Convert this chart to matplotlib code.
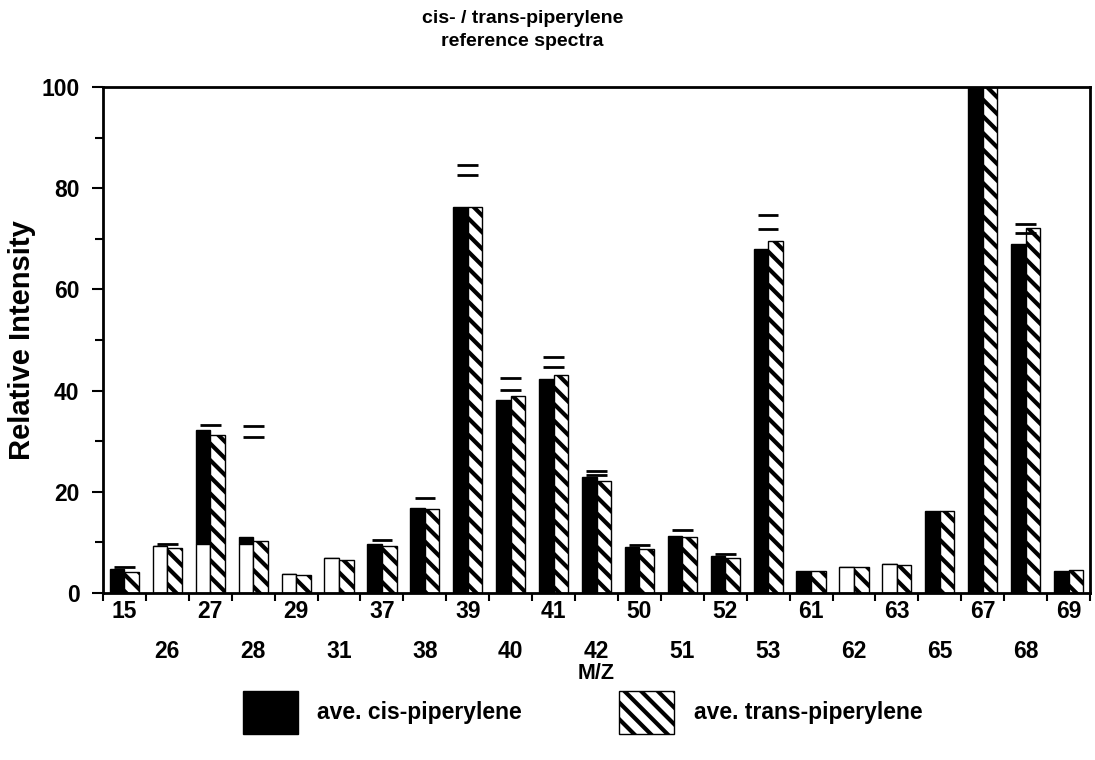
import numpy as np
import matplotlib
matplotlib.use("Agg")
import matplotlib.pyplot as plt
from matplotlib.patches import Patch

plt.rcParams['font.family'] = ['Liberation Sans', 'DejaVu Sans']
plt.rcParams['font.weight'] = 'bold'
plt.rcParams['hatch.linewidth'] = 3.0

# m/z fragments and average relative intensities
mz = ['15', '26', '27', '28', '29', '31', '37', '38', '39', '40', '41', '42',
      '50', '51', '52', '53', '61', '62', '63', '65', '67', '68', '69']
cis = [4.7, 9.3, 32.2, 11.0, 3.8, 6.9, 9.7, 16.9, 76.2, 38.1, 42.2, 22.9,
       9.0, 11.3, 7.3, 67.9, 4.4, 5.2, 5.7, 16.2, 100.0, 69.0, 4.3]
trans = [4.1, 8.8, 31.3, 10.3, 3.5, 6.5, 9.2, 16.7, 76.2, 39.0, 43.0, 22.1,
         8.7, 11.1, 6.9, 69.6, 4.3, 5.1, 5.6, 16.2, 100.0, 72.1, 4.5]
# upper error limits (first and second cap of each group)
cap_a = [5.2, 9.6, 33.2, 33.1, np.nan, np.nan, 10.5, 18.8, 84.6, 42.5, 46.6, 24.1,
         9.5, 12.4, 7.8, 74.8, np.nan, np.nan, np.nan, np.nan, np.nan, 73.0, np.nan]
cap_b = [np.nan, np.nan, np.nan, 30.8, np.nan, np.nan, np.nan, np.nan, 82.7, 40.1, 44.7, 23.4,
         np.nan, np.nan, np.nan, 71.9, np.nan, np.nan, np.nan, np.nan, np.nan, 71.2, np.nan]
# height of the unshaded lower part of the cis bars
cis_open = [0, 9.6, 9.6, 9.6, 9.6, 9.6, 0, 0, 0, 0, 0, 0,
            0, 0, 0, 0, 0, 10, 10, 0, 0, 0, 0]

x = np.arange(len(mz))
w = 0.34
cis_arr = np.array(cis)
open_arr = np.minimum(np.array(cis_open), cis_arr)
HATCH = '\\\\'

fig = plt.figure(figsize=(10.95, 7.6), dpi=100)
ax = fig.add_axes([0.0941, 0.2197, 0.9013, 0.6658])

ax.bar(x - w / 2, cis_arr - open_arr, w, bottom=open_arr, color='black',
       edgecolor='black', linewidth=1.0, label='ave. cis-piperylene')
ax.bar(x - w / 2, open_arr, w, color='white', edgecolor='black', linewidth=1.0)
ax.bar(x + w / 2, trans, w, color='white', edgecolor='black', hatch=HATCH,
       linewidth=1.0, label='ave. trans-piperylene')

ax.hlines(cap_a, x - 0.24, x + 0.24, colors='black', linewidth=2.0)
ax.hlines(cap_b, x - 0.24, x + 0.24, colors='black', linewidth=2.0)

ax.set_xlim(-0.5, len(mz) - 0.5)
ax.set_ylim(0, 100)

for s in ax.spines.values():
    s.set_linewidth(2.0)

ax.set_yticks([0, 20, 40, 60, 80, 100])
ax.set_yticks([10, 30, 50, 70, 90], minor=True)
ax.tick_params(axis='y', which='major', direction='out', length=8, width=1.5,
               labelsize=16.5, pad=9)
ax.tick_params(axis='y', which='minor', direction='out', length=6, width=1.5)

ax.set_xticks(x)
ax.set_xticklabels(mz)
ax.set_xticks(np.arange(len(mz) + 1) - 0.5, minor=True)
ax.tick_params(axis='x', which='major', length=0, labelsize=16.5, pad=5)
ax.tick_params(axis='x', which='minor', direction='out', length=6, width=1.5)
for i, t in enumerate(ax.xaxis.get_major_ticks()):
    if i % 2 == 1:
        t.set_pad(34)

ax.set_ylabel('Relative Intensity', fontsize=21, fontweight='bold', labelpad=4)
ax.set_xlabel('M/Z', fontsize=15.5, fontweight='bold', labelpad=0)

fig.text(0.477, 0.987, 'cis- / trans-piperylene\nreference spectra',
         ha='center', va='top', fontsize=14, fontweight='bold', linespacing=1.45)

handles = [Patch(facecolor='black', edgecolor='black', label='ave. cis-piperylene'),
           Patch(facecolor='white', edgecolor='black', hatch=HATCH,
                 label='ave. trans-piperylene')]
fig.legend(handles=handles, loc='center', bbox_to_anchor=(0.532, 0.063), ncol=2,
           frameon=False, fontsize=16.5, handlelength=2.4, handleheight=2.5,
           handletextpad=0.85, columnspacing=4.25)

fig.savefig('out.png', dpi=100, facecolor='white')
